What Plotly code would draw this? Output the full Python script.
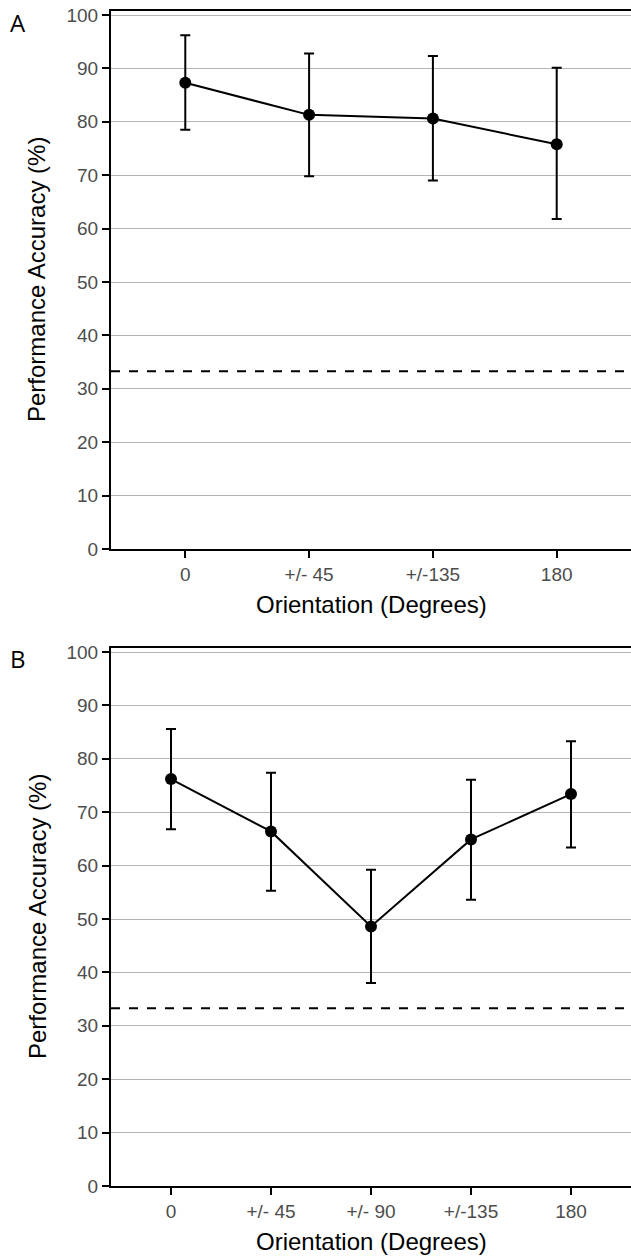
import plotly.graph_objects as go

# Panel A data
cats_a = ["0", "+/- 45", "+/-135", "180"]
mean_a = [87.3, 81.3, 80.6, 75.8]
upper_a = [96.2, 92.8, 92.3, 90.1]
lower_a = [78.5, 69.8, 69.0, 61.8]

# Panel B data
cats_b = ["0", "+/- 45", "+/- 90", "+/-135", "180"]
mean_b = [76.2, 66.4, 48.6, 64.9, 73.4]
upper_b = [85.6, 77.4, 59.2, 76.1, 83.3]
lower_b = [66.8, 55.3, 38.0, 53.6, 63.4]

chance = 33.3
yticks = [0, 10, 20, 30, 40, 50, 60, 70, 80, 90, 100]
xtitle = "Orientation (Degrees)"
ytitle = "Performance Accuracy (%)"

W, H = 631, 1256
fig = go.Figure()

def add_panel(cats, mean, upper, lower, xa, ya):
    xs = list(range(len(cats)))
    fig.add_trace(go.Scatter(
        x=xs, y=mean, mode="lines+markers",
        line=dict(color="black", width=2),
        marker=dict(color="black", size=12),
        error_y=dict(type="data", symmetric=False,
                     array=[u - m for u, m in zip(upper, mean)],
                     arrayminus=[m - l for m, l in zip(mean, lower)],
                     color="black", thickness=2, width=5),
        xaxis=xa, yaxis=ya, showlegend=False, hoverinfo="skip"))
    fig.add_trace(go.Scatter(
        x=[-0.6, len(cats) - 0.4], y=[chance, chance], mode="lines",
        line=dict(color="black", width=2, dash="dash"),
        xaxis=xa, yaxis=ya, showlegend=False, hoverinfo="skip"))

add_panel(cats_a, mean_a, upper_a, lower_a, "x", "y")
add_panel(cats_b, mean_b, upper_b, lower_b, "x2", "y2")

xdom = [111 / W, 1.0]
ydom_a = [1 - 549 / H, 1 - 11 / H]
ydom_b = [1 - 1186 / H, 1 - 648 / H]

tickfont = dict(family="Liberation Sans, Arial, sans-serif", size=19, color="#4d4d4d")
titlefont = dict(family="Liberation Sans, Arial, sans-serif", size=24, color="black")
labelfont = dict(family="Open Sans, sans-serif", size=24, color="black")

def xaxis(cats, anchor):
    return dict(domain=xdom, anchor=anchor, range=[-0.6, len(cats) - 0.4],
                tickmode="array", tickvals=list(range(len(cats))), ticktext=cats,
                showline=True, linecolor="black", linewidth=2, mirror=True,
                ticks="outside", ticklen=7, tickwidth=2, tickcolor="black",
                showgrid=False, zeroline=False, tickfont=tickfont,
                automargin=False)

def yaxis(dom, anchor):
    return dict(domain=dom, anchor=anchor, range=[0, 100.75],
                tickmode="array", tickvals=yticks,
                showline=True, linecolor="black", linewidth=2,
                ticks="outside", ticklen=7, tickwidth=2, tickcolor="black",
                showgrid=True, gridcolor="#b5b5b5", gridwidth=1, zeroline=False,
                tickfont=tickfont, automargin=False)

def ann(text, x, y, font, angle=0):
    return dict(text=text, x=x / W, y=1 - y / H, xref="paper", yref="paper",
                xanchor="center", yanchor="middle", showarrow=False,
                textangle=angle, font=font)

fig.update_layout(
    width=W, height=H,
    margin=dict(l=0, r=0, t=0, b=0),
    paper_bgcolor="white", plot_bgcolor="white",
    xaxis=xaxis(cats_a, "y"), yaxis=yaxis(ydom_a, "x"),
    xaxis2=xaxis(cats_b, "y2"), yaxis2=yaxis(ydom_b, "x2"),
    annotations=[
        ann("A", 18, 22, labelfont),
        ann("B", 18, 658, labelfont),
        ann(xtitle, 371, 604, titlefont),
        ann(xtitle, 371, 1241, titlefont),
        ann(ytitle, 37, 280, titlefont, -90),
        ann(ytitle, 37, 917, titlefont, -90),
    ],
)

fig.write_html("out.html", config={"displayModeBar": False},
               post_script="document.body.style.margin='0px';document.body.style.overflow='hidden';")
